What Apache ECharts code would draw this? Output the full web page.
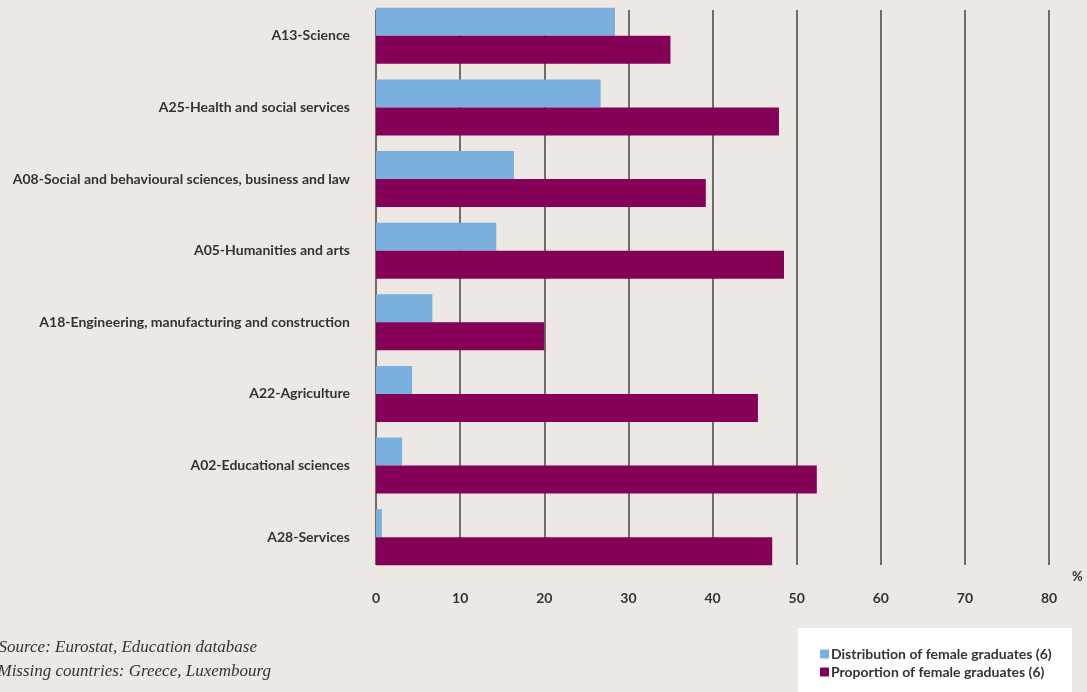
<!DOCTYPE html>
<html>
<head>
<meta charset="utf-8">
<script src="https://cdn.jsdelivr.net/npm/echarts@6/dist/echarts.min.js"></script>
<style>
  html, body { margin: 0; padding: 0; background: #ede8e4; }
  #chart { width: 1087px; height: 692px; }
</style>
</head>
<body>
<div id="chart"></div>
<script>
// Fields of education, listed top to bottom
const categories = [
  'A13-Science',
  'A25-Health and social services',
  'A08-Social and behavioural sciences, business and law',
  'A05-Humanities and arts',
  'A18-Engineering, manufacturing and construction',
  'A22-Agriculture',
  'A02-Educational sciences',
  'A28-Services'
];
const distributionFemale = [28.4, 26.7, 16.4, 14.3, 6.7, 4.3, 3.1, 0.7];
const proportionFemale = [35.0, 47.9, 39.2, 48.5, 20.0, 45.4, 52.4, 47.1];
const seriesNames = ['Distribution of female graduates (6)', 'Proportion of female graduates (6)'];
const sourceLines = ['Source: Eurostat, Education database', 'Missing countries: Greece, Luxembourg'];

const textColor = '#333333';
const labelFont = 'Lato, "Open Sans", sans-serif';

const chart = echarts.init(document.getElementById('chart'));
chart.setOption({
  backgroundColor: '#ede8e4',
  animation: false,
  grid: [
    { left: 376, width: 673, top: 0, height: 573 },
    { left: 376, width: 673, top: 10, height: 555 }
  ],
  xAxis: [
    {
      gridIndex: 0, type: 'value', min: 0, max: 80, interval: 10,
      axisLine: { show: false }, axisTick: { show: false },
      axisLabel: { show: false }, splitLine: { show: false }
    },
    {
      gridIndex: 1, type: 'value', min: 0, max: 80, interval: 10,
      axisLine: { show: false }, axisTick: { show: false },
      axisLabel: {
        margin: 26, color: textColor, fontFamily: labelFont,
        fontWeight: 'bold', fontSize: 14
      },
      splitLine: { show: true, showMinLine: true, showMaxLine: true,
        lineStyle: { color: '#444444', width: 1.5 } }
    }
  ],
  yAxis: [
    {
      gridIndex: 0, type: 'category', data: categories, inverse: true,
      axisLine: { show: false }, axisTick: { show: false },
      axisLabel: {
        margin: 26, color: textColor, fontFamily: labelFont,
        fontWeight: 'bold', fontSize: 14
      }
    },
    {
      gridIndex: 1, type: 'category', data: categories, inverse: true, show: false
    }
  ],
  legend: {
    orient: 'vertical', left: 815, top: 642,
    itemWidth: 9, itemHeight: 9, itemGap: 4, icon: 'rect',
    selectedMode: false,
    textStyle: { color: textColor, fontFamily: labelFont, fontWeight: 'bold', fontSize: 14, padding: [0, 0, 0, -3] },
    data: seriesNames
  },
  graphic: [
    { type: 'rect', z: 0, shape: { x: 798, y: 628, width: 274, height: 70 }, style: { fill: '#ffffff' } },
    { type: 'text', left: 1072, top: 570, style: { text: '%', fill: textColor, font: 'bold 13px ' + labelFont } },
    { type: 'text', x: 257, y: 648, style: { text: sourceLines[0], textAlign: 'right', textVerticalAlign: 'middle', fill: textColor, font: 'italic 17px "Liberation Serif", serif' } },
    { type: 'text', x: 271, y: 672, style: { text: sourceLines[1], textAlign: 'right', textVerticalAlign: 'middle', fill: textColor, font: 'italic 17px "Liberation Serif", serif' } }
  ],
  series: [
    {
      name: seriesNames[0], type: 'bar', xAxisIndex: 0, yAxisIndex: 0,
      data: distributionFemale, barWidth: 28, barGap: '0%',
      itemStyle: { color: '#7ab0de' }, z: 3
    },
    {
      name: seriesNames[1], type: 'bar', xAxisIndex: 0, yAxisIndex: 0,
      data: proportionFemale, barWidth: 28, barGap: '0%',
      itemStyle: { color: '#850057' }, z: 3
    }
  ]
});
</script>
</body>
</html>
